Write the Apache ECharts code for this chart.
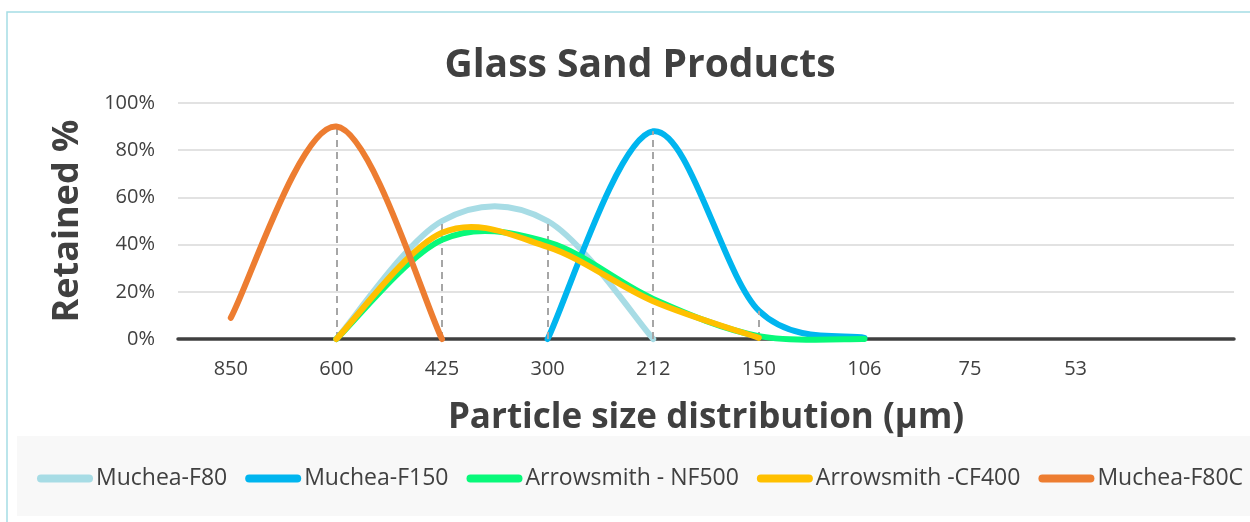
<!DOCTYPE html>
<html>
<head>
<meta charset="utf-8">
<script src="https://cdn.jsdelivr.net/npm/echarts@6/dist/echarts.min.js"></script>
<style>html,body{margin:0;padding:0;background:#fff}#c{width:1250px;height:522px}</style>
</head>
<body>
<div id="c"></div>
<script>
const categories = ['850','600','425','300','212','150','106','75','53',''];
const seriesNames = ['Muchea-F80','Muchea-F150','Arrowsmith - NF500','Arrowsmith -CF400','Muchea-F80C'];
const mucheaF80   = [null, 0, 50, 50, 0, null, null, null, null, null];
const mucheaF150  = [null, null, null, 0, 88, 12, 0.5, null, null, null];
const arrowNF500  = [null, 0, 42, 41, 17, 1.2, 0, null, null, null];
const arrowCF400  = [null, 0, 45, 39, 16, 0.5, null, null, null, null];
const mucheaF80C  = [9, 90, 0, null, null, null, null, null, null, null];
const yTicks = [0, 20, 40, 60, 80, 100];

const colors = ['#a7dce5', '#00b5ef', '#08f97a', '#ffc000', '#ed7d31'];
const allData = [mucheaF80, mucheaF150, arrowNF500, arrowCF400, mucheaF80C];

// drop lines: at categories where at least two series have values, up to the max value
const dropLines = [];
categories.forEach((c, i) => {
  const vals = allData.map(d => d[i]).filter(v => v !== null && v !== undefined);
  if (vals.length >= 2) {
    const m = Math.max(...vals);
    if (m > 0) dropLines.push([{coord: [i, 0]}, {coord: [i, m]}]);
  }
});

// Excel-like smoothed line (Catmull-Rom style Bezier) drawn through the axes' scales
function smoothRender(color) {
  return function (params, api) {
    if (params.dataIndexInside !== 0) return null;
    const n = params.dataInsideLength;
    const p = [];
    for (let j = 0; j < n; j++) p.push(api.coord([api.value(0, j), api.value(1, j)]));
    let d = 'M' + p[0][0] + ' ' + p[0][1];
    for (let j = 0; j < n - 1; j++) {
      const p0 = p[j - 1] || p[j], p1 = p[j], p2 = p[j + 1], p3 = p[j + 2] || p[j + 1];
      const c1x = p1[0] + (p2[0] - p0[0]) / 6, c1y = p1[1] + (p2[1] - p0[1]) / 6;
      const c2x = p2[0] - (p3[0] - p1[0]) / 6, c2y = p2[1] - (p3[1] - p1[1]) / 6;
      d += ' C' + c1x + ' ' + c1y + ' ' + c2x + ' ' + c2y + ' ' + p2[0] + ' ' + p2[1];
    }
    return {
      type: 'path',
      shape: {pathData: d},
      style: {stroke: color, lineWidth: 6, fill: null, lineCap: 'round', lineJoin: 'round'}
    };
  };
}

const chart = echarts.init(document.getElementById('c'));
const font = '"Open Sans", sans-serif';
const series = allData.map((d, k) => ({
  name: seriesNames[k],
  type: 'custom',
  coordinateSystem: 'cartesian2d',
  data: d.map((v, i) => (v === null ? null : [i, v])).filter(Boolean),
  encode: {x: 0, y: 1},
  z: 3 + k,
  itemStyle: {color: colors[k]},
  renderItem: smoothRender(colors[k])
}));
series.push({
  name: 'drop',
  type: 'line',
  data: [],
  z: 2,
  markLine: {
    silent: true,
    symbol: 'none',
    label: {show: false},
    lineStyle: {type: [7, 5], color: '#a6a6a6', width: 2},
    data: dropLines
  }
});

chart.setOption({
  animation: false,
  title: {
    text: 'Glass Sand Products',
    left: 635,
    textAlign: 'center',
    top: 41,
    textStyle: {fontFamily: font, fontSize: 39, fontWeight: 'bold', color: '#404040'}
  },
  graphic: [
    {type: 'rect', z: -10, shape: {x: 7, y: 12, width: 1400, height: 700}, style: {fill: '#fff', stroke: '#a5dde5', lineWidth: 1.5}},
    {type: 'rect', z: -9, shape: {x: 17, y: 436, width: 1240, height: 80}, style: {fill: '#f8f8f8'}}
  ],
  legend: {
    data: seriesNames,
    left: 32,
    top: 462,
    itemWidth: 56,
    itemHeight: 8,
    itemGap: 18,
    icon: 'path://M4,0 L52,0 A4,4 0 0 1 52,8 L4,8 A4,4 0 0 1 4,0 Z',
    textStyle: {fontFamily: font, fontSize: 23, color: '#404040', padding: [0, 0, 0, -2]}
  },
  grid: {left: 178, right: 16, top: 103, bottom: 183, containLabel: false},
  xAxis: {
    type: 'category',
    data: categories,
    boundaryGap: true,
    name: 'Particle size distribution (µm)',
    nameLocation: 'middle',
    nameGap: 62,
    nameTextStyle: {fontFamily: font, fontSize: 35, fontWeight: 'bold', color: '#404040'},
    axisLine: {lineStyle: {color: '#404040', width: 3.5}},
    axisTick: {show: false},
    axisLabel: {fontFamily: font, fontSize: 20, color: '#404040', margin: 20},
    splitLine: {show: false}
  },
  yAxis: {
    type: 'value',
    min: yTicks[0],
    max: yTicks[yTicks.length - 1],
    interval: 20,
    name: 'Retained %',
    nameLocation: 'middle',
    nameGap: 92,
    nameTextStyle: {fontFamily: font, fontSize: 36, fontWeight: 'bold', color: '#404040'},
    axisLine: {show: false},
    axisTick: {show: false},
    axisLabel: {fontFamily: font, fontSize: 20, color: '#404040', margin: 23, formatter: '{value}%'},
    splitLine: {lineStyle: {color: '#d9d9d9', width: 1.5}}
  },
  series: series
});
</script>
</body>
</html>
